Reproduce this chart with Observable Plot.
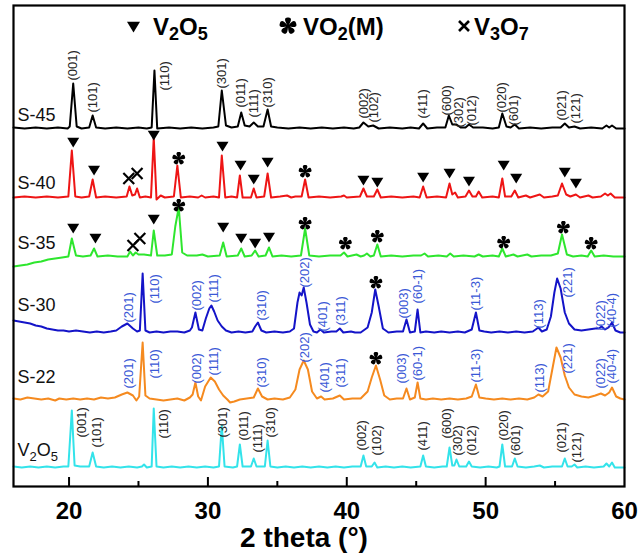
<!DOCTYPE html>
<html><head><meta charset="utf-8">
<script src="https://cdn.jsdelivr.net/npm/d3@7"></script>
<script src="https://cdn.jsdelivr.net/npm/@observablehq/plot@0.6"></script>
<style>
body{margin:0;background:#fff;}
#wrap{position:relative;width:638px;height:555px;font-family:"Liberation Sans",Arial,sans-serif;color:#000;}
.leg{position:absolute;top:15px;font-weight:bold;font-size:24px;line-height:24px;white-space:nowrap;}
.leg sub{font-size:18px;vertical-align:-5px;line-height:0;}
.legsym{position:absolute;}
#xtitle{position:absolute;left:0;width:608px;top:524px;text-align:center;font-weight:bold;font-size:28px;line-height:28px;}
</style></head><body><div id="wrap"></div>
<script>
// ---------- data ----------
const samples = ["S-45","S-40","S-35","S-30","S-22","V2O5"];
const offsets = [358, 289, 230, 154, 87, 19];
const lineColors = ["#000000","#ee1515","#2ee62e","#1414c8","#f58a1f","#33e3ea"];
const sampleLabelRel = [13, 14, 13, 27, 22, 17];
const majorTicks = [20, 30, 40, 50, 60];
const minorTicks = [25, 35, 45, 55];

const s45 = [[16,1],[16.8,0],[17.6,1],[18.4,0],[19.2,1],[19.9,0],[20.05,2],[20.3,45],[20.55,2],[20.9,0],[21.45,1],[21.7,13],[21.95,1],[22.6,0],[23.4,1],[24.2,0],[25.0,1],[25.6,0],[25.95,1],[26.15,58],[26.35,0],[27.2,1],[28.0,0],[28.8,1],[29.6,0],[30.4,1],[30.75,2],[31.0,38],[31.3,3],[31.7,1],[32.15,2],[32.4,16],[32.65,3],[33.0,2],[33.3,6],[33.6,2],[34.0,2],[34.3,19],[34.55,2],[35.0,1],[35.8,0],[36.6,1],[37.4,0],[38.2,1],[39.0,0],[39.8,1],[40.5,0],[40.9,1],[41.2,6],[41.55,2],[41.9,3],[42.3,0],[43.1,1],[44.0,0],[44.6,1],[45.2,0],[45.5,5],[45.8,0],[46.5,1],[47.1,1],[47.35,13],[47.6,4],[47.9,4],[48.2,1],[48.55,1],[48.8,4],[49.1,1],[49.8,1],[50.5,0],[50.95,1],[51.2,15],[51.5,2],[51.8,1],[52.1,4],[52.4,0],[53.2,1],[54.0,0],[54.8,1],[55.4,1],[55.7,5],[56.0,1],[56.4,2],[56.8,0],[57.6,1],[58.4,0],[58.7,3],[58.9,1],[59.1,3],[59.4,0],[60,0]];
const s40 = [[16,0],[16.8,1],[17.6,0],[18.4,1],[19.2,0],[19.95,1],[20.2,47],[20.45,1],[20.9,0],[21.45,1],[21.7,18],[21.95,0],[22.6,1],[23.4,0],[24.15,1],[24.35,11],[24.55,2],[24.75,3],[24.9,9],[25.1,0],[25.5,1],[25.9,0],[26.1,60],[26.3,-2],[26.6,2],[26.9,0],[27.55,1],[27.8,32],[28.05,0],[28.7,1],[29.3,0],[29.55,2],[29.8,0],[30.4,1],[30.8,0],[31.0,42],[31.25,0],[31.7,1],[32.1,0],[32.3,22],[32.5,0],[33.1,0],[33.3,9],[33.5,0],[34.05,1],[34.3,24],[34.55,0],[35.2,1],[35.7,2],[36.0,0],[36.3,1],[36.75,1],[37.0,18],[37.25,0],[38.0,1],[38.8,0],[39.6,1],[39.8,2],[40.0,0],[40.95,1],[41.2,9],[41.45,1],[41.95,1],[42.2,8],[42.45,0],[43.2,1],[44.0,0],[44.8,1],[45.25,0],[45.5,11],[45.75,0],[46.5,1],[47.15,0],[47.4,14],[47.6,3],[47.8,5],[48.0,0],[48.55,1],[48.8,7],[49.05,1],[49.3,1],[49.5,6],[49.75,0],[50.5,1],[50.95,0],[51.2,19],[51.4,1],[51.85,1],[52.1,7],[52.35,0],[52.9,2],[53.2,0],[53.9,3],[54.2,0],[54.8,1],[55.2,2],[55.5,14],[55.8,3],[56.1,1],[56.5,3],[56.8,0],[57.4,2],[57.7,0],[58.3,1],[58.6,4],[58.8,2],[59.0,4],[59.3,0],[60,0]];
const s35 = [[16,-10],[16.5,-9],[17,-8],[17.5,-6],[18,-5],[18.5,-3],[19,-2],[19.5,-1],[19.95,0],[20.2,18],[20.5,1],[21.0,0],[21.55,1],[21.8,8],[22.05,0],[22.8,1],[23.5,0],[24.2,0],[24.4,5],[24.6,1],[24.8,4],[25.0,2],[25.4,2],[25.9,1],[26.1,26],[26.35,1],[26.9,1],[27.4,2],[27.65,30],[27.9,49],[28.15,4],[28.5,1],[29.2,1],[29.6,2],[30.0,0],[30.85,1],[31.1,14],[31.35,0],[32.15,1],[32.4,8],[32.65,0],[33.15,1],[33.4,6],[33.65,0],[34.15,1],[34.4,9],[34.65,0],[35.3,1],[36.0,0],[36.7,1],[37.0,28],[37.3,1],[38.0,0],[38.8,1],[39.55,1],[39.8,4],[40.05,0],[40.7,2],[41.0,0],[41.25,1],[41.45,3],[41.7,0],[41.95,1],[42.2,12],[42.45,0],[43.2,1],[44.0,0],[44.8,1],[45.35,1],[45.6,3],[45.85,0],[46.6,1],[47.2,0],[47.45,3],[47.7,0],[48.4,1],[49.2,0],[49.5,2],[49.8,0],[50.5,1],[50.95,0],[51.2,8],[51.45,0],[52.0,2],[52.3,0],[53.0,2],[53.3,0],[54.0,1],[54.7,1],[55.2,3],[55.5,22],[55.85,2],[56.3,0],[56.9,1],[57.35,0],[57.6,6],[57.85,0],[58.5,1],[59.2,0],[60,0]];
const s30 = [[16,12],[16.4,11],[16.8,10],[17.2,9],[17.6,7],[18.0,6],[18.4,4],[18.8,3],[19.2,2],[19.6,2],[20.0,1],[20.5,2],[21.0,1],[21.5,0],[22.0,1],[22.5,0],[23.0,1],[23.4,2],[23.8,6],[24.2,9],[24.6,4],[24.9,1],[25.1,2],[25.3,59],[25.5,2],[25.8,0],[26.3,1],[26.8,0],[27.3,1],[27.8,1],[28.3,0],[28.7,2],[28.85,5],[29.1,20],[29.35,3],[29.6,2],[29.85,14],[30.1,24],[30.25,27],[30.45,21],[30.7,12],[31.0,6],[31.3,2],[31.7,0],[32.2,1],[32.7,0],[33.2,1],[33.4,6],[33.6,10],[33.85,2],[34.2,0],[34.8,1],[35.4,0],[35.9,1],[36.2,4],[36.45,30],[36.6,40],[36.75,37],[36.9,45],[37.1,30],[37.35,8],[37.6,1],[37.85,0],[38.1,3],[38.35,0],[38.9,1],[39.25,1],[39.5,4],[39.75,0],[40.3,1],[40.6,0],[41.0,0],[41.5,5],[41.8,20],[42.05,43],[42.3,26],[42.6,4],[43.0,0],[43.6,1],[44.05,1],[44.3,13],[44.55,0],[44.9,1],[45.1,23],[45.3,0],[45.7,1],[46.3,0],[46.8,1],[47.4,0],[48.0,1],[48.5,0],[49.0,3],[49.3,20],[49.55,2],[49.9,1],[50.4,0],[51.0,1],[51.6,0],[52.2,1],[52.8,0],[53.4,1],[53.8,5],[54.05,1],[54.4,3],[54.7,16],[54.95,40],[55.15,54],[55.4,44],[55.7,20],[56.0,9],[56.4,3],[56.9,2],[57.4,3],[57.9,4],[58.15,4],[58.35,6],[58.6,3],[58.85,5],[59.1,10],[59.35,2],[59.7,0],[60,0]];
const s22 = [[16,1],[16.5,0],[17.0,2],[17.5,1],[18.0,0],[18.5,1],[19.0,-1],[19.3,1],[19.8,0],[20.3,1],[20.8,0],[21.3,1],[21.8,0],[22.3,2],[22.8,1],[23.3,2],[23.8,5],[24.2,7],[24.6,4],[24.85,-1],[25.05,3],[25.3,57],[25.5,4],[25.8,1],[26.3,0],[26.8,-1],[27.3,0],[27.8,1],[28.3,-1],[28.7,2],[28.9,5],[29.1,17],[29.3,3],[29.5,-1],[29.8,13],[30.2,22],[30.5,18],[30.8,10],[31.1,4],[31.4,0],[31.6,-3],[31.9,-2],[32.3,0],[32.8,1],[33.3,2],[33.6,11],[33.9,3],[34.3,0],[34.8,1],[35.4,0],[35.9,2],[36.3,10],[36.6,30],[36.9,39],[37.2,30],[37.5,8],[37.85,1],[38.15,3],[38.4,0],[39.0,1],[39.5,4],[39.8,0],[40.4,1],[41.0,1],[41.5,8],[41.8,22],[42.1,34],[42.4,20],[42.7,4],[43.1,0],[43.6,1],[44.05,1],[44.3,11],[44.55,0],[44.9,2],[45.1,17],[45.3,1],[45.7,0],[46.2,1],[46.8,0],[47.4,1],[48.0,0],[48.6,1],[49.0,3],[49.3,15],[49.55,2],[50.0,1],[50.6,0],[51.2,1],[51.8,0],[52.4,1],[53.0,0],[53.5,2],[53.8,5],[54.1,3],[54.5,8],[54.8,30],[55.1,52],[55.4,42],[55.7,24],[56.0,12],[56.4,5],[56.9,3],[57.4,2],[57.9,4],[58.3,6],[58.6,4],[58.9,7],[59.1,12],[59.4,3],[59.7,1],[60,0]];
const v2o5 = [[16,1],[16.6,0],[17.2,1],[17.8,0],[18.4,1],[19.0,0],[19.6,1],[19.95,1],[20.2,57],[20.4,2],[20.8,1],[21.45,1],[21.7,15],[21.95,1],[22.5,0],[23.1,1],[23.7,0],[24.3,1],[24.9,0],[25.25,1],[25.4,3],[25.6,0],[25.95,1],[26.1,59],[26.3,1],[26.8,0],[27.4,1],[28.0,0],[28.6,1],[29.2,0],[29.8,1],[30.4,0],[30.8,1],[31.0,42],[31.2,1],[31.8,0],[32.1,1],[32.3,23],[32.5,1],[33.1,1],[33.3,9],[33.5,1],[34.1,1],[34.3,27],[34.5,1],[35.0,0],[35.6,1],[36.2,0],[36.8,1],[37.4,0],[38.0,1],[38.6,0],[39.2,1],[39.8,0],[40.4,1],[41.0,1],[41.2,12],[41.4,1],[41.8,1],[42.0,5],[42.2,0],[42.8,1],[43.4,0],[44.0,1],[44.6,0],[45.3,1],[45.5,12],[45.7,1],[46.3,0],[46.9,1],[47.2,1],[47.4,20],[47.6,2],[47.75,2],[47.9,8],[48.1,1],[48.6,1],[48.8,6],[49.0,1],[49.6,0],[50.2,1],[50.8,0],[51.0,1],[51.2,23],[51.4,1],[51.9,1],[52.1,9],[52.3,1],[52.9,0],[53.5,1],[53.9,2],[54.2,0],[54.8,1],[55.5,1],[55.7,9],[55.9,1],[56.2,1],[56.4,3],[56.6,0],[57.2,1],[57.8,0],[58.5,1],[58.7,4],[58.9,1],[59.1,5],[59.3,0],[60,0]];

// peak labels: [text, 2theta, height above baseline]
const hkl45 = [["(001)",20.3,48],["(101)",21.7,16],["(110)",26.9,38],["(301)",31.0,40],["(011)",32.4,21],["(111)",33.3,11],["(310)",34.3,21],["(002)",41.2,10],["(102)",41.95,6],["(411)",45.5,10],["(600)",47.2,13],["(302)",48.1,1],["(012)",49.0,3],["(020)",51.2,16],["(601)",52.0,3],["(021)",55.5,8],["(121)",56.5,5]];
const hklV = [["(001)",20.9,30],["(101)",22.0,20],["(110)",26.8,29],["(301)",31.1,30],["(011)",32.6,27],["(111)",33.6,15],["(310)",34.5,30],["(002)",41.1,17],["(102)",42.2,12],["(411)",45.5,17],["(600)",47.2,29],["(302)",48.0,12],["(012)",49.0,12],["(020)",51.3,27],["(601)",52.2,12],["(021)",55.5,15],["(121)",56.6,5]];
const hkl30 = [["(201)",24.3,10],["(110)",26.2,29],["(002)",29.2,22],["(111)",30.4,30],["(310)",33.9,12],["(202)",37.0,45],["(401)",38.3,1],["(311)",39.6,7],["(003)",44.1,14],["(60-1)",45.1,29],["(11-3)",49.3,22],["(113)",53.8,4],["(221)",55.9,35],["(022)",58.3,2],["(40-4)",59.1,5]];
const hkl22 = [["(201)",24.3,11],["(110)",26.2,21],["(002)",29.2,16],["(111)",30.4,24],["(310)",33.9,12],["(202)",37.0,37],["(401)",38.4,7],["(311)",39.6,12],["(003)",44.0,16],["(60-1)",45.1,19],["(11-3)",49.3,17],["(113)",53.9,7],["(221)",55.9,26],["(022)",58.3,11],["(40-4)",59.1,16]];

// phase markers: [2theta, height above baseline]
const triS40 = [[20.3,55],[21.8,27],[26.1,62],[31.05,51],[32.35,32],[33.3,18],[34.3,35],[41.2,17],[42.2,15],[45.5,20],[47.4,24],[48.8,16],[51.3,32],[52.2,19],[55.7,25],[56.5,14]];
const starS40 = [[27.9,39],[37.0,26]];
const crossS40 = [[24.3,19],[24.9,24]];
const triS35 = [[20.3,28],[21.9,18],[26.1,37],[31.1,29],[32.4,18],[33.4,13],[34.4,19]];
const starS35 = [[27.9,51],[37.0,33],[39.9,13],[42.2,20],[51.3,14],[55.6,29],[57.6,13]];
const crossS35 = [[24.6,11],[25.1,18]];
const starS30 = [[42.1,50]];
const starS22 = [[42.1,41]];

// ---------- build tables ----------
const traces = [s45, s40, s35, s30, s22, v2o5];
const lineRows = traces.flatMap((t, i) => t.map(([x, v]) => ({sample: samples[i], x, y: offsets[i] + v})));
const toRows = (arr, i) => arr.map(([a, b, c]) => typeof a === "string" ? {text: a, x: b, y: offsets[i] + c} : {x: a, y: offsets[i] + b});
const hklBlack = [...toRows(hkl45, 0), ...toRows(hklV, 5)];
const hklBlue = [...toRows(hkl30, 3), ...toRows(hkl22, 4)];
const triRows = [...toRows(triS40, 1), ...toRows(triS35, 2)];
const starRows = [...toRows(starS40, 1), ...toRows(starS35, 2), ...toRows(starS30, 3), ...toRows(starS22, 4)];
const crossRows = [...toRows(crossS40, 1), ...toRows(crossS35, 2)];
const sampleRows = samples.map((s, i) => ({text: s, y: offsets[i] + sampleLabelRel[i]}));

// ---------- symbols ----------
const triSym = {draw(ctx, size) {
  const r = Math.sqrt(size / Math.PI);
  ctx.moveTo(-r, -0.8 * r); ctx.lineTo(r, -0.8 * r); ctx.lineTo(0, 0.85 * r); ctx.closePath();
}};
const flowerSym = {draw(ctx, size) {
  const r = Math.sqrt(size / Math.PI);
  const P = (a, d) => [d * Math.cos(a), d * Math.sin(a)];
  for (let k = 0; k < 5; k++) {
    const a = -Math.PI / 2 + k * 2 * Math.PI / 5;
    const c1 = P(a - 0.62, 0.85 * r), c2 = P(a - 0.4, 1.12 * r), t = P(a, 1.0 * r);
    const c3 = P(a + 0.4, 1.12 * r), c4 = P(a + 0.62, 0.85 * r);
    ctx.moveTo(0, 0);
    ctx.bezierCurveTo(c1[0], c1[1], c2[0], c2[1], t[0], t[1]);
    ctx.bezierCurveTo(c3[0], c3[1], c4[0], c4[1], 0, 0);
    ctx.closePath();
  }
  ctx.moveTo(0.22 * r, 0); ctx.arc(0, 0, 0.22 * r, 0, 2 * Math.PI);
}};

// ---------- plot ----------
const W = 638, H = 555, mt = 5, mb = 69, ml = 13, mr = 14;
const innerH = H - mt - mb;
const plot = Plot.plot({
  width: W, height: H,
  marginTop: mt, marginBottom: mb, marginLeft: ml, marginRight: mr,
  style: {fontFamily: "'Liberation Sans', Arial, sans-serif", background: "transparent"},
  x: {domain: [16, 60]},
  y: {domain: [0, innerH], axis: null},
  color: {domain: samples, range: lineColors},
  marks: [
    Plot.line(lineRows, {x: "x", y: "y", z: "sample", stroke: "sample", strokeWidth: 2, strokeLinejoin: "round"}),
    Plot.text(hklBlack, {x: "x", y: "y", text: "text", rotate: -90, textAnchor: "start", fontSize: 13, fill: "#262626"}),
    Plot.text(hklBlue, {x: "x", y: "y", text: "text", rotate: -90, textAnchor: "start", fontSize: 13, fill: "#3a58d6"}),
    Plot.dot(triRows, {x: "x", y: "y", symbol: triSym, r: 6, fill: "#000", stroke: "none"}),
    Plot.dot(starRows, {x: "x", y: "y", symbol: flowerSym, r: 6.5, fill: "#000", stroke: "none"}),
    Plot.dot(crossRows, {x: "x", y: "y", symbol: "times", r: 5, stroke: "#000", strokeWidth: 2.2, fill: "none"}),
    Plot.text(sampleRows, {y: "y", text: "text", frameAnchor: "left", dx: 4, textAnchor: "start", fontSize: 18, fill: "#111", className: "samp"}),
    Plot.ruleX(majorTicks.slice(0, -1), {insetTop: innerH - 9, strokeWidth: 2, stroke: "#000"}),
    Plot.ruleX(minorTicks, {insetTop: innerH - 5, strokeWidth: 2, stroke: "#000"}),
    Plot.frame({stroke: "#000", strokeWidth: 2.2}),
    Plot.axisX(majorTicks, {tickSize: 0, tickPadding: 15, fontSize: 24, fontWeight: "bold", label: null})
  ]
});

// subscripts in the V2O5 sample label
plot.querySelectorAll(".samp text").forEach(t => {
  if (t.textContent === "V2O5") {
    t.textContent = "";
    const parts = [["V", 0], ["2", 1], ["O", 0], ["5", 1]];
    let shift = 0;
    for (const [s, sub] of parts) {
      const ts = document.createElementNS("http://www.w3.org/2000/svg", "tspan");
      const target = sub ? 5 : 0;
      ts.setAttribute("dy", target - shift);
      shift = target;
      if (sub) ts.setAttribute("font-size", "13");
      ts.textContent = s;
      t.appendChild(ts);
    }
  }
});

const wrap = document.getElementById("wrap");
wrap.appendChild(plot);

// legend (HTML overlay)
function symSvg(sym, r, w, h) {
  const p = d3.path(); sym.draw(p, r * r * Math.PI);
  return `<svg width="${w}" height="${h}" viewBox="${-w/2} ${-h/2} ${w} ${h}"><path d="${p}" fill="#000"/></svg>`;
}
const legendItems = [
  {sym: symSvg(triSym, 6.5, 15, 14), symLeft: 126, symTop: 20, textLeft: 153, html: "V<sub>2</sub>O<sub>5</sub>"},
  {sym: symSvg(flowerSym, 8.5, 18, 18), symLeft: 279, symTop: 17, textLeft: 303, html: "VO<sub>2</sub>(M)"},
  {sym: `<svg width="14" height="14" viewBox="-7 -7 14 14"><path d="M-5,-5L5,5M5,-5L-5,5" stroke="#000" stroke-width="2.6"/></svg>`, symLeft: 457, symTop: 19, textLeft: 474, html: "V<sub>3</sub>O<sub>7</sub>"}
];
for (const it of legendItems) {
  const s = document.createElement("div");
  s.className = "legsym"; s.style.left = it.symLeft + "px"; s.style.top = it.symTop + "px";
  s.innerHTML = it.sym; wrap.appendChild(s);
  const t = document.createElement("div");
  t.className = "leg"; t.style.left = it.textLeft + "px"; t.innerHTML = it.html;
  wrap.appendChild(t);
}
const xt = document.createElement("div");
xt.id = "xtitle"; xt.textContent = "2 theta (°)";
wrap.appendChild(xt);
</script></body></html>
